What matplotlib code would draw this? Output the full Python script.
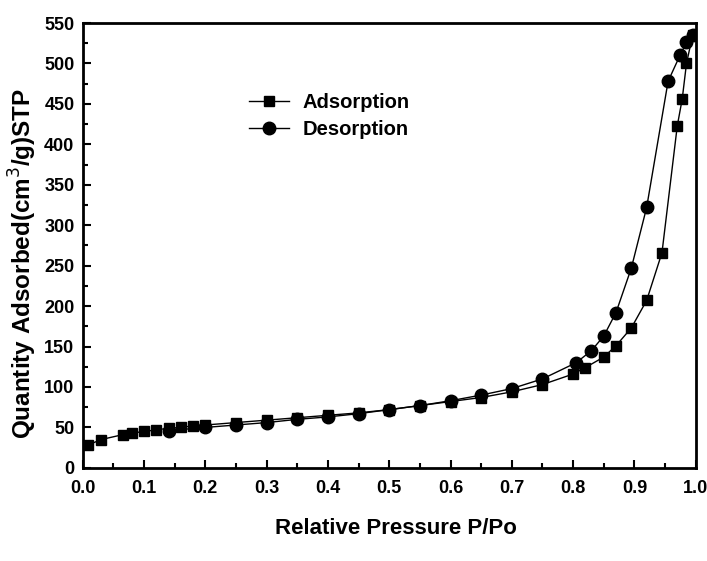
import numpy as np
import matplotlib
matplotlib.use("Agg")
import matplotlib.pyplot as plt
from matplotlib.ticker import MultipleLocator

plt.rcParams['font.family'] = ['Liberation Sans', 'DejaVu Sans']

# adsorption branch (squares)
ads_p = [0.008, 0.03, 0.065, 0.08, 0.10, 0.12, 0.14, 0.16, 0.18, 0.20, 0.25,
         0.30, 0.35, 0.40, 0.45, 0.50, 0.55, 0.60, 0.65, 0.70, 0.75, 0.80,
         0.82, 0.85, 0.87, 0.895, 0.92, 0.945, 0.97, 0.978, 0.985, 0.995]
ads_q = [28, 35, 41, 43, 45, 47, 49, 50, 52, 53, 56,
         59, 62, 65, 68, 72, 77, 82, 87, 94, 103, 116,
         124, 137, 151, 173, 207, 266, 423, 456, 500, 535]

# desorption branch (circles)
des_p = [0.995, 0.985, 0.975, 0.955, 0.92, 0.895, 0.87, 0.85, 0.83, 0.805,
         0.75, 0.70, 0.65, 0.60, 0.55, 0.50, 0.45, 0.40, 0.35, 0.30, 0.25,
         0.20, 0.14]
des_q = [535, 526, 511, 478, 322, 247, 192, 163, 145, 130,
         110, 98, 90, 83, 77, 72, 67, 63, 60, 56, 53,
         50, 46]

xticks = np.arange(0, 1.01, 0.1)

fig = plt.figure(figsize=(7.07, 5.61), dpi=100)
ax = fig.add_axes([0.117, 0.166, 0.867, 0.793])

ax.plot(ads_p, ads_q, color='k', lw=1, marker='s', ms=7.5, label='Adsorption')
ax.plot(des_p, des_q, color='k', lw=1, marker='o', ms=9, label='Desorption')

ax.set_xlim(0, 1.0)
ax.set_ylim(0, 550)
ax.set_xticks(xticks)
ax.set_xticklabels([f"{v:.1f}" for v in xticks])
ax.xaxis.set_minor_locator(MultipleLocator(0.05))
ax.yaxis.set_major_locator(MultipleLocator(50))
ax.yaxis.set_minor_locator(MultipleLocator(25))
ax.tick_params(which='both', direction='in', width=1.5, labelsize=13)
ax.tick_params(which='major', length=6)
ax.tick_params(which='minor', length=3.5)
ax.tick_params(axis='x', pad=9)
ax.tick_params(axis='y', pad=6)
for lab in ax.get_xticklabels() + ax.get_yticklabels():
    lab.set_fontweight('bold')
for s in ax.spines.values():
    s.set_linewidth(2)

ax.set_xlabel('Relative Pressure P/Po', fontsize=16, fontweight='bold')
ax.xaxis.set_label_coords(0.511, -0.112)
ax.set_ylabel('Quantity Adsorbed(cm$^3$/g)STP', fontsize=17.5, fontweight='bold')
ax.yaxis.set_label_coords(-0.072, 0.46)

ax.legend(loc='upper left', bbox_to_anchor=(0.272, 0.843), frameon=False,
          borderpad=0, borderaxespad=0,
          prop={'size': 14.5, 'weight': 'bold'},
          handlelength=1.95, handletextpad=0.7, labelspacing=0.4)

fig.savefig('out.png', dpi=100)
